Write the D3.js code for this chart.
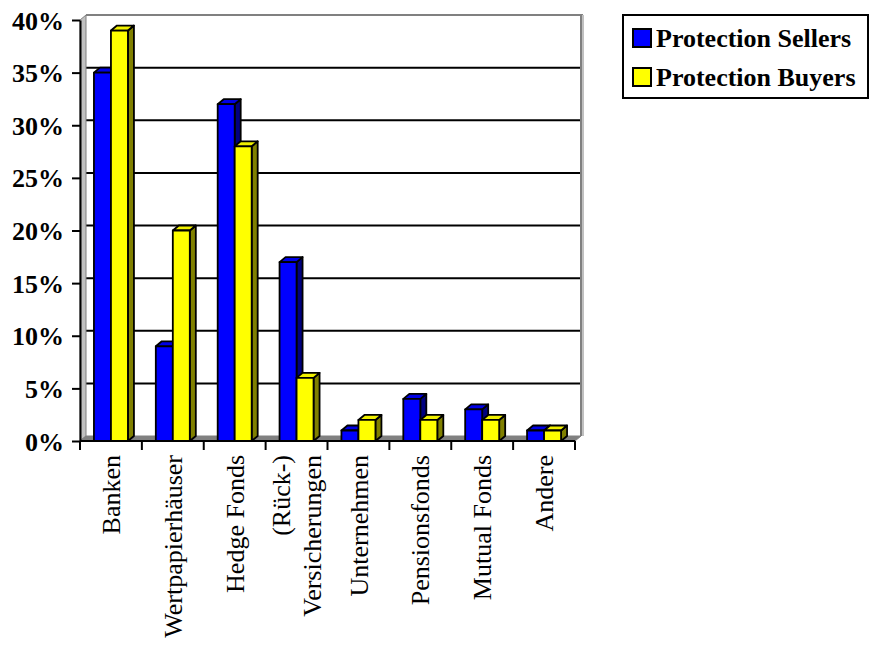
<!DOCTYPE html>
<html>
<head>
<meta charset="utf-8">
<script src="https://cdn.jsdelivr.net/npm/d3@7"></script>
<style>
  html, body { margin: 0; padding: 0; background: #fff; }
  svg { display: block; }
</style>
</head>
<body>
<svg id="chart" width="871" height="648"></svg>
<script>
// Anteil der Marktteilnehmer am Kreditderivatemarkt
const categories = ["Banken", "Wertpapierhäuser", "Hedge Fonds", "(Rück-)\nVersicherungen",
                    "Unternehmen", "Pensionsfonds", "Mutual Fonds", "Andere"];
const seriesNames = ["Protection Sellers", "Protection Buyers"];
const sellers = [35, 9, 32, 17, 1, 4, 3, 1];
const buyers  = [39, 20, 28, 6, 2, 2, 2, 1];
const yTicks = [0, 5, 10, 15, 20, 25, 30, 35, 40];

(function () {
const seriesValues = [sellers, buyers];
const faceColors  = ["#0000ff", "#ffff00"];
const topColors   = ["#0000e6", "#f0f000"];
const sideColors  = ["#000080", "#808000"];

const svg = d3.select("#chart");
const plotLeft = 80, plotRight = 575, plotTop = 20, plotBottom = 441;
const dx = 6, dy = 5;   // depth offset of the 3D back wall

const x0 = d3.scaleBand().domain(categories).range([plotLeft, plotRight]).paddingInner(0).paddingOuter(0);
const x1 = d3.scaleBand().domain(seriesNames).range([0, x0.bandwidth()]).paddingInner(0).paddingOuter(0.82);
const y = d3.scaleLinear().domain([0, 40]).range([plotBottom, plotTop]);

// back wall
svg.append("rect").attr("x", plotLeft + dx).attr("y", plotTop - dy)
  .attr("width", plotRight - plotLeft).attr("height", plotBottom - plotTop).attr("fill", "#fff");

// gridlines on the back wall
svg.append("g").selectAll("line").data(yTicks.filter(t => t > 0 && t < 40)).join("line")
  .attr("x1", plotLeft + dx).attr("x2", plotRight + dx)
  .attr("y1", d => y(d) - dy).attr("y2", d => y(d) - dy)
  .attr("stroke", "#000").attr("stroke-width", 2);

// frame of the back wall
svg.append("line").attr("x1", plotLeft + dx).attr("x2", plotRight + dx + 2)
  .attr("y1", y(40) - dy).attr("y2", y(40) - dy)
  .attr("stroke", "#808080").attr("stroke-width", 2);
svg.append("line").attr("x1", plotRight + dx).attr("x2", plotRight + dx)
  .attr("y1", y(40) - dy).attr("y2", plotBottom - dy)
  .attr("stroke", "#808080").attr("stroke-width", 2);
svg.append("line").attr("x1", plotRight + dx + 2).attr("x2", plotRight + dx + 2)
  .attr("y1", y(40) - dy).attr("y2", plotBottom - dy)
  .attr("stroke", "#c0c0c0").attr("stroke-width", 2);

// left side wall
svg.append("polygon")
  .attr("points", [[plotLeft, plotBottom], [plotLeft, plotTop], [plotLeft + dx, plotTop - dy], [plotLeft + dx, plotBottom - dy]].join(" "))
  .attr("fill", "#c0c0c0").attr("stroke", "#808080").attr("stroke-width", 1);

// floor
svg.append("polygon")
  .attr("points", [[plotLeft, plotBottom], [plotRight, plotBottom], [plotRight + dx, plotBottom - dy], [plotLeft + dx, plotBottom - dy]].join(" "))
  .attr("fill", "#808080").attr("stroke", "#808080").attr("stroke-width", 1);

// 3D bars
const bars = svg.append("g");
categories.forEach((c, i) => {
  seriesNames.forEach((s, j) => {
    const v = seriesValues[j][i];
    const bx = x0(c) + x1(s), w = x1.bandwidth(), by = y(v);
    const g = bars.append("g").attr("stroke", "#000").attr("stroke-width", 1.8).attr("stroke-linejoin", "round");
    g.append("polygon")
      .attr("points", [[bx + w, by], [bx + w + dx, by - dy], [bx + w + dx, plotBottom - dy], [bx + w, plotBottom]].join(" "))
      .attr("fill", sideColors[j]);
    g.append("polygon")
      .attr("points", [[bx, by], [bx + dx, by - dy], [bx + w + dx, by - dy], [bx + w, by]].join(" "))
      .attr("fill", topColors[j]);
    g.append("rect").attr("x", bx).attr("y", by).attr("width", w).attr("height", plotBottom - by)
      .attr("fill", faceColors[j]);
  });
});

// y axis
const yAxis = svg.append("g").attr("transform", `translate(${plotLeft},0)`)
  .call(d3.axisLeft(y).tickValues(yTicks).tickFormat(d => d + "%").tickSize(8).tickSizeOuter(0).tickPadding(8));
yAxis.select(".domain").attr("stroke", "#000").attr("stroke-width", 2);
yAxis.selectAll(".tick line").attr("stroke", "#000").attr("stroke-width", 2);
yAxis.selectAll(".tick text")
  .attr("font-family", "'Liberation Serif', 'Times New Roman', serif")
  .attr("font-weight", "bold").attr("font-size", 26).attr("fill", "#000").attr("dy", "0.35em");

// x axis with ticks at category boundaries
const xg = svg.append("g");
xg.append("line").attr("x1", plotLeft).attr("x2", plotRight).attr("y1", plotBottom).attr("y2", plotBottom)
  .attr("stroke", "#000").attr("stroke-width", 2);
const boundaries = categories.map(c => x0(c)).concat([plotRight]);
xg.selectAll("line.tk").data(boundaries).join("line").attr("class", "tk")
  .attr("x1", d => d).attr("x2", d => d).attr("y1", plotBottom).attr("y2", plotBottom + 9)
  .attr("stroke", "#000").attr("stroke-width", 2);

// rotated category labels
categories.forEach(c => {
  const cx = x0(c) + x0.bandwidth() / 2;
  const lines = c.split("\n");
  const t = svg.append("text")
    .attr("transform", `translate(${cx},455) rotate(-90)`)
    .attr("text-anchor", "end")
    .attr("font-family", "'Liberation Serif', 'Times New Roman', serif")
    .attr("font-size", 26).attr("fill", "#000");
  lines.forEach((ln, k) => {
    const off = 0.35 + (k - (lines.length - 1) / 2) * 1.2;
    t.append("tspan").attr("x", 0).attr("y", 0).attr("dy", off + "em").text(ln);
  });
});

// legend
const lg = svg.append("g");
lg.append("rect").attr("x", 623).attr("y", 15).attr("width", 245).attr("height", 83)
  .attr("fill", "#fff").attr("stroke", "#000").attr("stroke-width", 2);
seriesNames.forEach((s, j) => {
  const cy = 38 + j * 39;
  lg.append("rect").attr("x", 633).attr("y", cy - 9).attr("width", 18).attr("height", 18)
    .attr("fill", faceColors[j]).attr("stroke", "#000").attr("stroke-width", 2);
  lg.append("text").attr("x", 656).attr("y", cy).attr("dy", "0.35em")
    .attr("font-family", "'Liberation Serif', 'Times New Roman', serif")
    .attr("font-weight", "bold").attr("font-size", 26).attr("fill", "#000").text(s);
});
})();
</script>
</body>
</html>
